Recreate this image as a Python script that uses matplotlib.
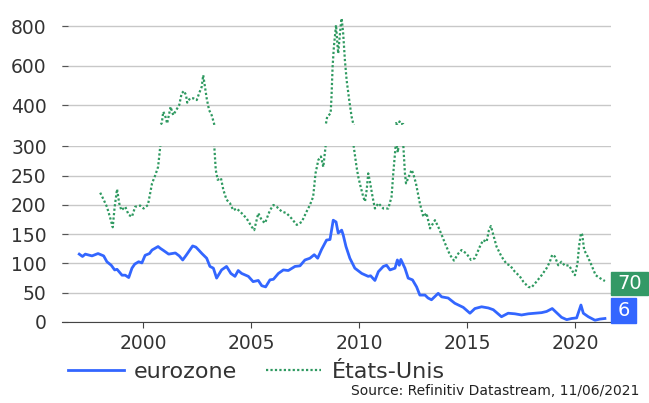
"""Spreads: eurozone vs Etats-Unis, broken y axis."""

import matplotlib

matplotlib.use("Agg")
import matplotlib.pyplot as plt
import matplotlib.transforms as mtransforms
from matplotlib.patches import Rectangle

BLUE = "#3366ff"
GREEN = "#2e9960"
GRID = "#c8c8c8"
TEXT = "#333333"

eu_years = [
    1997.05, 1997.2, 1997.33, 1997.64, 1997.92, 1998.18, 1998.33, 1998.53, 1998.69, 1998.8,
    1999.03, 1999.18, 1999.34, 1999.49, 1999.62, 1999.8, 1999.95, 2000.1, 2000.3, 2000.42,
    2000.7, 2000.8, 2000.96, 2001.19, 2001.5, 2001.68, 2001.84, 2002.0, 2002.3, 2002.45,
    2002.58, 2002.73, 2002.95, 2003.1, 2003.26, 2003.41, 2003.64, 2003.87, 2004.07, 2004.26,
    2004.41, 2004.57, 2004.88, 2005.1, 2005.34, 2005.5, 2005.68, 2005.88, 2006.04, 2006.27,
    2006.5, 2006.73, 2007.04, 2007.27, 2007.5, 2007.73, 2007.93, 2008.09, 2008.27, 2008.5,
    2008.66, 2008.81, 2008.94, 2009.04, 2009.2, 2009.27, 2009.4, 2009.58, 2009.81, 2010.13,
    2010.43, 2010.54, 2010.74, 2010.9, 2011.13, 2011.28, 2011.44, 2011.67, 2011.78, 2011.87,
    2011.94, 2012.13, 2012.28, 2012.48, 2012.67, 2012.82, 2013.06, 2013.2, 2013.36, 2013.67,
    2013.83, 2014.13, 2014.44, 2014.83, 2015.14, 2015.37, 2015.68, 2015.99, 2016.22, 2016.6,
    2016.91, 2017.22, 2017.53, 2017.84, 2018.15, 2018.46, 2018.69, 2018.95, 2019.15, 2019.38,
    2019.62, 2019.85, 2020.08, 2020.28, 2020.39, 2020.62, 2020.93, 2021.16, 2021.39,
]
eu_values = [
    116, 112, 116, 113, 117, 113, 103, 97, 89, 90,
    80, 80, 76, 92, 99, 103, 101, 114, 117, 123,
    129, 126, 122, 116, 118, 113, 106, 114, 130, 128,
    123, 117, 109, 95, 92, 75, 89, 95, 83, 78,
    88, 83, 78, 69, 71, 62, 60, 72, 73, 83,
    89, 88, 95, 96, 106, 109, 115, 109, 124, 140,
    141, 174, 171, 152, 157, 149, 129, 109, 92, 83,
    78, 79, 71, 86, 95, 97, 89, 92, 106, 97,
    107, 92, 75, 72, 60, 46, 46, 41, 38, 49,
    43, 41, 32, 25, 15, 23, 26, 24, 21, 9,
    15, 14, 12, 14, 15, 16, 18, 23, 16, 8,
    4, 6, 7, 29, 15, 9, 3, 5, 6,
]

us_years = [
    1998.02, 1998.18, 1998.33, 1998.49, 1998.6, 1998.69, 1998.8, 1998.9, 1999.0, 1999.18,
    1999.34, 1999.49, 1999.64, 1999.87, 2000.03, 2000.23, 2000.42, 2000.57, 2000.7, 2000.8,
    2000.87, 2000.94, 2001.02, 2001.12, 2001.28, 2001.4, 2001.56, 2001.68, 2001.79, 2001.9,
    2001.99, 2002.05, 2002.18, 2002.33, 2002.49, 2002.6, 2002.72, 2002.79, 2002.87, 2002.95,
    2003.06, 2003.18, 2003.29, 2003.37, 2003.46, 2003.61, 2003.72, 2003.87, 2004.03, 2004.18,
    2004.34, 2004.57, 2004.8, 2005.03, 2005.15, 2005.34, 2005.5, 2005.65, 2005.88, 2006.04,
    2006.19, 2006.42, 2006.65, 2006.88, 2007.12, 2007.35, 2007.58, 2007.73, 2007.88, 2007.99,
    2008.12, 2008.24, 2008.35, 2008.47, 2008.53, 2008.69, 2008.73, 2008.78, 2008.84, 2008.94,
    2009.0, 2009.04, 2009.15, 2009.2, 2009.27, 2009.35, 2009.43, 2009.55, 2009.66, 2009.74,
    2009.89, 2009.97, 2010.08, 2010.2, 2010.28, 2010.36, 2010.43, 2010.51, 2010.63, 2010.74,
    2010.9, 2011.13, 2011.36, 2011.51, 2011.59, 2011.72, 2011.8, 2011.88, 2011.95, 2012.05,
    2012.13, 2012.18, 2012.28, 2012.44, 2012.51, 2012.64, 2012.82, 2012.98, 2013.13, 2013.29,
    2013.52, 2013.67, 2013.83, 2013.98, 2014.21, 2014.4, 2014.6, 2014.75, 2014.98, 2015.19,
    2015.37, 2015.6, 2015.75, 2015.91, 2016.02, 2016.11, 2016.22, 2016.37, 2016.6, 2016.84,
    2016.99, 2017.22, 2017.45, 2017.61, 2017.84, 2017.99, 2018.22, 2018.46, 2018.69, 2018.84,
    2018.95, 2019.07, 2019.23, 2019.38, 2019.54, 2019.72, 2019.85, 2020.0, 2020.12, 2020.19,
    2020.28, 2020.34, 2020.43, 2020.59, 2020.77, 2020.96, 2021.16, 2021.39,
]
us_values = [
    221, 209, 197, 177, 162, 197, 227, 203, 191, 197,
    183, 180, 197, 199, 194, 200, 237, 251, 265, 300,
    309, 367, 350, 308, 392, 350, 379, 401, 460, 472,
    452, 413, 435, 435, 426, 460, 493, 552, 493, 435,
    376, 350, 308, 260, 243, 246, 226, 209, 203, 191,
    194, 186, 177, 163, 157, 186, 174, 169, 191, 200,
    197, 189, 186, 177, 166, 171, 189, 200, 214, 254,
    277, 283, 265, 305, 342, 359, 443, 594, 695, 805,
    713, 662, 797, 839, 763, 628, 527, 426, 342, 305,
    265, 248, 231, 214, 206, 226, 254, 240, 214, 194,
    203, 194, 194, 214, 254, 310, 290, 318, 305, 305,
    254, 237, 246, 260, 254, 237, 203, 180, 186, 160,
    174, 163, 149, 135, 115, 105, 117, 123, 117, 106,
    109, 129, 140, 137, 157, 164, 149, 129, 112, 99,
    97, 86, 78, 69, 60, 59, 69, 80, 92, 103,
    115, 112, 97, 103, 96, 97, 89, 80, 100, 129,
    152, 149, 123, 112, 97, 80, 75, 70,
]

x_ticks = [2000, 2005, 2010, 2015, 2020]
low_ticks = [0, 50, 100, 150, 200, 250, 300]
high_ticks = [400, 600, 800]
series_names = ["eurozone", "États-Unis"]
last_labels = ["6", "70"]
label_centers = [20, 66]  # placement of the end-value boxes, lower-axis units

plt.rcParams["font.family"] = "DejaVu Sans"

fig = plt.figure(figsize=(6.49, 4.03), dpi=100)
ax_lo = fig.add_axes([0.0955, 0.2010, 0.8459, 0.4355])
ax_hi = fig.add_axes([0.0955, 0.6898, 0.8459, 0.2902], sharex=ax_lo)

for ax in (ax_lo, ax_hi):
    (eu_line,) = ax.plot(eu_years, eu_values, color=BLUE, lw=2.0, zorder=3)
    (us_line,) = ax.plot(us_years, us_values, color=GREEN, lw=1.6, dashes=(1, 1), zorder=3)
    ax.grid(axis="y", color=GRID, lw=1)
    ax.set_axisbelow(True)
    for side in ("left", "right", "top"):
        ax.spines[side].set_visible(False)
    ax.tick_params(axis="y", direction="in", length=4, color="#555555", pad=11,
                   labelsize=13.5, labelcolor=TEXT)
    ax.patch.set_alpha(0)

ax_lo.set_xlim(1996.25, 2021.67)
ax_lo.set_ylim(0, 300)
ax_lo.set_yticks(low_ticks)
ax_lo.set_xticks(x_ticks)
ax_lo.spines["bottom"].set_color("#444444")
ax_lo.tick_params(axis="x", direction="out", length=4, color="#444444", pad=5,
                  labelsize=13.5, labelcolor=TEXT)

ax_hi.set_ylim(300, 891)
ax_hi.set_yticks(high_ticks)
ax_hi.spines["bottom"].set_visible(False)
ax_hi.tick_params(axis="x", bottom=False, labelbottom=False)

# end-value boxes to the right of the plot
trans = mtransforms.blended_transform_factory(ax_lo.transAxes, ax_lo.transData)
box_widths = [0.0464, 0.0674]
box_heights = [42, 38]
for text, center, w, h, color in zip(last_labels, label_centers, box_widths, box_heights, [BLUE, "#339966"]):
    ax_lo.add_patch(Rectangle((1.0, center - h / 2), w, h, transform=trans, color=color,
                              clip_on=False, zorder=4))
    ax_lo.text(1.0 + w / 2, center, text, transform=trans, ha="center", va="center",
               color="white", fontsize=14, clip_on=False, zorder=5)

fig.legend([eu_line, us_line], series_names, loc="center left", bbox_to_anchor=(0.105, 0.078),
           ncol=2, frameon=False, fontsize=16, handlelength=2.5, handletextpad=0.45,
           columnspacing=1.3, borderpad=0, borderaxespad=0, labelcolor=TEXT)

fig.text(0.985, 0.012, "Source: Refinitiv Datastream, 11/06/2021", ha="right", va="bottom",
         fontsize=10, color="#222222")

fig.savefig("out.png", dpi=100)
